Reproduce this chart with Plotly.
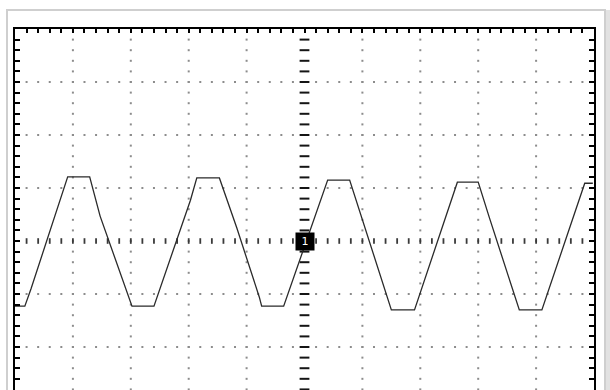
import numpy as np
import plotly.graph_objects as go

# Trace vertices in screen divisions (10 x 8 graticule, centre = 0,0)
wave_x = [-5.0, -4.83, -4.72, -4.09, -3.71, -3.53, -2.98, -2.60, -1.97, -1.86,
          -1.47, -1.17, -0.78, -0.74, -0.36, 0.40, 0.78, 1.50, 1.90, 2.64,
          3.00, 3.19, 3.71, 4.10, 4.84, 4.98]
wave_y = [-1.23, -1.23, -0.89, 1.21, 1.21, 0.47, -1.23, -1.23, 0.77, 1.19,
          1.19, 0.25, -1.06, -1.23, -1.23, 1.15, 1.15, -1.30, -1.30, 1.11,
          1.11, 0.45, -1.30, -1.30, 1.09, 1.09]

# Graticule
major_x = [-4, -3, -2, -1, 1, 2, 3, 4]
major_y = [-2, -1, 1, 2, 3]
minor_step = 0.2
channel_label = "1"

# Screen window (divisions); the bottom of the screen runs past the view
x_range = [-5.0, 5.0]
y_range = [-2.811, 4.0]

minor_x = np.round(np.arange(-4.8, 4.81, minor_step), 2)
minor_y = np.round(np.arange(-2.8, 3.81, minor_step), 2)

fig = go.Figure()

# Dotted graticule lines
gx, gy = [], []
for xv in major_x:
    gx += [xv] * len(minor_y)
    gy += list(minor_y)
for yv in major_y:
    gx += list(minor_x)
    gy += [yv] * len(minor_x)
fig.add_trace(go.Scatter(x=gx, y=gy, mode="markers", hoverinfo="skip",
                         marker=dict(symbol="square", size=2, color="#8c8c8c")))

# Centre axes with minor tick marks
fig.add_trace(go.Scatter(x=[0] * len(minor_y), y=minor_y, mode="markers", hoverinfo="skip",
                         marker=dict(symbol="line-ew", size=7,
                                     line=dict(width=2, color="#151515"))))
fig.add_trace(go.Scatter(x=minor_x, y=[0] * len(minor_x), mode="markers", hoverinfo="skip",
                         marker=dict(symbol="line-ns", size=4,
                                     line=dict(width=1.8, color="#3a3a3a"))))

# Signal trace
fig.add_trace(go.Scatter(x=wave_x, y=wave_y, mode="lines",
                         line=dict(color="#2a2a2a", width=1.3)))

# Channel ground marker
fig.add_annotation(x=0, y=0, xref="x", yref="y", text=channel_label, showarrow=False,
                   font=dict(family="DejaVu Sans", size=11, color="white"),
                   bgcolor="black", width=16, height=15, borderpad=1)

# Bezel around the screen (pixel positions converted to paper units)
L, R, T, B = 15, 594, 29, 390
def px(v):
    return (v - L) / (R - L)
def py(v):
    return (B - v) / (B - T)

fig.add_shape(type="rect", xref="paper", yref="paper",
              x0=px(605), x1=px(614), y0=py(400), y1=py(10),
              fillcolor="#e2e2e2", line=dict(width=0), layer="below")
fig.add_shape(type="rect", xref="paper", yref="paper",
              x0=px(7), x1=px(605), y0=py(400), y1=py(10),
              line=dict(color="#cfcfcf", width=2), fillcolor="rgba(0,0,0,0)")

fig.update_xaxes(range=x_range, side="top", showgrid=False, zeroline=False,
                 showline=True, linecolor="black", linewidth=2, mirror=False,
                 ticks="inside", dtick=minor_step, tick0=0, ticklen=4, tickwidth=2,
                 tickcolor="black", showticklabels=False, fixedrange=True)
fig.update_yaxes(range=y_range, showgrid=False, zeroline=False,
                 showline=True, linecolor="black", linewidth=2, mirror="ticks",
                 ticks="inside", dtick=minor_step, tick0=0, ticklen=5, tickwidth=2,
                 tickcolor="black", showticklabels=False, fixedrange=True)

fig.update_layout(width=610, height=390,
                  margin=dict(l=L, r=610 - R, t=T, b=0, pad=0),
                  paper_bgcolor="white", plot_bgcolor="white",
                  showlegend=False)

fig.write_html("out.html")
